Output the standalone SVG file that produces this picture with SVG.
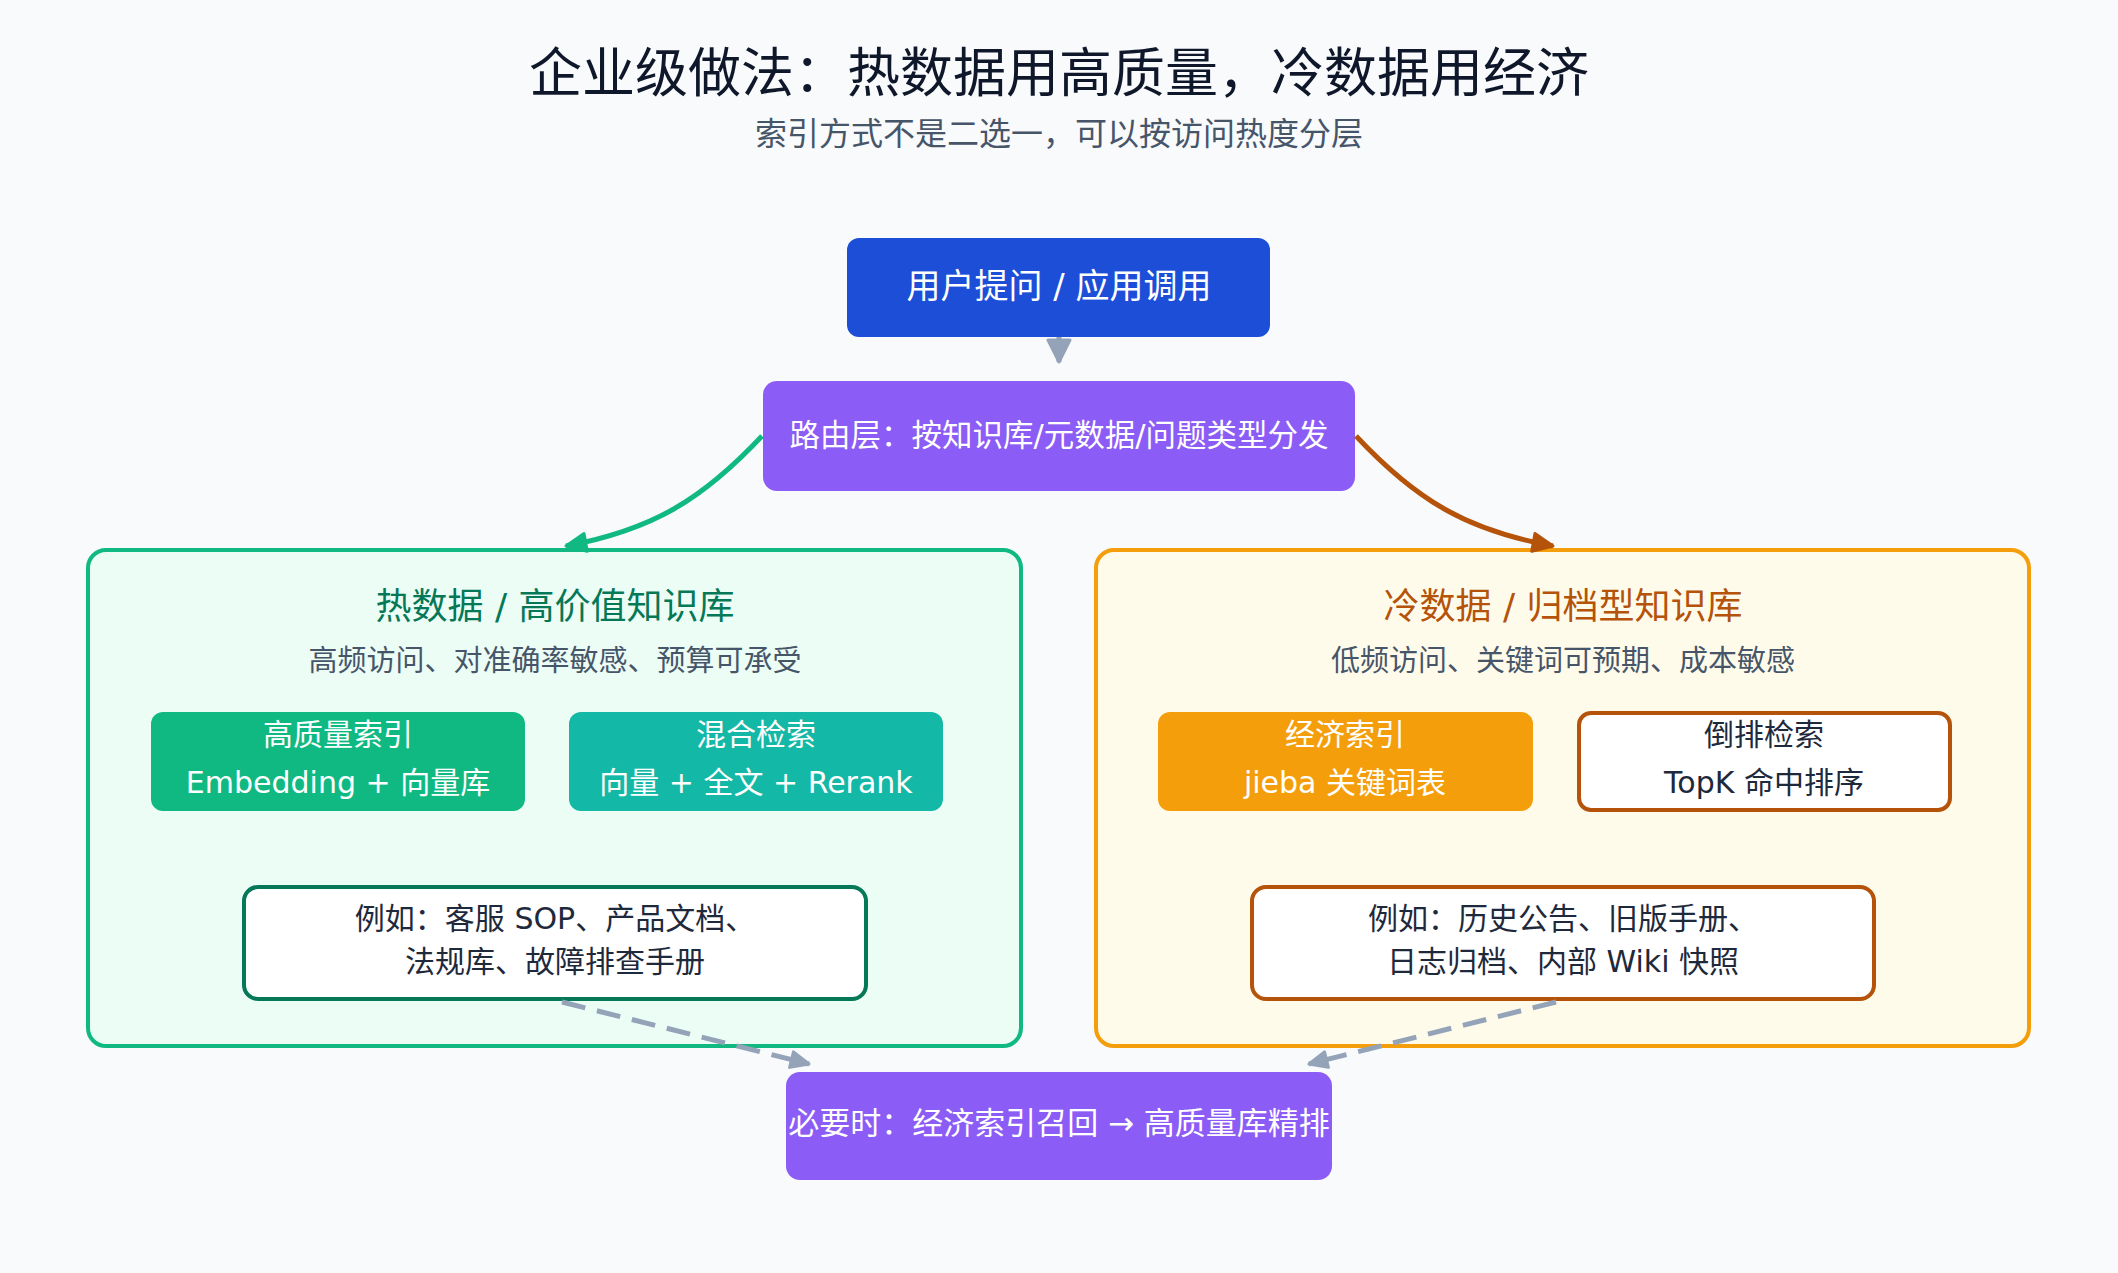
<svg xmlns="http://www.w3.org/2000/svg" width="2118" height="1273" viewBox="0 0 2118 1273">
  <defs>
    <style>
      .t { font-family: "DejaVu Sans", "Noto Sans CJK SC", sans-serif; text-anchor: middle; }
      .title { font-size: 53px; fill: #0f172a; }
      .sub { font-size: 32px; fill: #475569; }
      .w { fill: #ffffff; }
      .dark { fill: #1e293b; }
      .gtitle { font-size: 36px; fill: #047857; }
      .otitle { font-size: 36px; fill: #b45309; }
      .csub { font-size: 29px; fill: #475569; }
      .bx { font-size: 30px; }
      .ex { font-size: 30px; fill: #1e293b; }
      .dash { fill: none; stroke: #94a3b8; stroke-width: 5; stroke-dasharray: 24 12; }
    </style>
    <marker id="mGreen" markerUnits="userSpaceOnUse" viewBox="0 0 24 22" refX="22" refY="11" markerWidth="24" markerHeight="22" orient="auto">
      <path d="M2,2 L22,11 L2,20 Z" fill="#10b981" stroke="#10b981" stroke-width="3" stroke-linejoin="round"/>
    </marker>
    <marker id="mOrange" markerUnits="userSpaceOnUse" viewBox="0 0 24 22" refX="22" refY="11" markerWidth="24" markerHeight="22" orient="auto">
      <path d="M2,2 L22,11 L2,20 Z" fill="#b45309" stroke="#b45309" stroke-width="3" stroke-linejoin="round"/>
    </marker>
    <marker id="mGray" markerUnits="userSpaceOnUse" viewBox="0 0 26 26" refX="24" refY="13" markerWidth="26" markerHeight="26" orient="auto">
      <path d="M2,2 L24,13 L2,24 Z" fill="#94a3b8" stroke="#94a3b8" stroke-width="3" stroke-linejoin="round"/>
    </marker>
    <marker id="mGraySm" markerUnits="userSpaceOnUse" viewBox="0 0 22 20" refX="20" refY="10" markerWidth="22" markerHeight="20" orient="auto">
      <path d="M2,2 L20,10 L2,18 Z" fill="#94a3b8" stroke="#94a3b8" stroke-width="3" stroke-linejoin="round"/>
    </marker>
  </defs>

  <rect x="0" y="0" width="2118" height="1273" fill="#f8fafc"/>

  <g id="title">
    <text class="t title" x="1059" y="92">企业级做法：热数据用高质量，冷数据用经济</text>
    <text class="t sub" x="1059" y="145">索引方式不是二选一，可以按访问热度分层</text>
  </g>

  <g id="hot">
    <rect x="88" y="550" width="933" height="496" rx="18" fill="#ecfdf5" stroke="#10b981" stroke-width="4"/>
    <text class="t gtitle" x="555" y="619">热数据 / 高价值知识库</text>
    <text class="t csub" x="555" y="671">高频访问、对准确率敏感、预算可承受</text>
  </g>
  <g id="hot-hq">
    <rect x="151" y="712" width="374" height="99" rx="12" fill="#10b981"/>
    <text class="t bx w" x="338" y="745">高质量索引</text>
    <text class="t bx w" x="338" y="793">Embedding + 向量库</text>
  </g>
  <g id="hot-hybrid">
    <rect x="569" y="712" width="374" height="99" rx="12" fill="#14b8a6"/>
    <text class="t bx w" x="756" y="745">混合检索</text>
    <text class="t bx w" x="756" y="793">向量 + 全文 + Rerank</text>
  </g>
  <g id="hot-examples">
    <rect x="244" y="887" width="622" height="112" rx="14" fill="#ffffff" stroke="#047857" stroke-width="4"/>
    <text class="t ex" x="555" y="929">例如：客服 SOP、产品文档、</text>
    <text class="t ex" x="555" y="972">法规库、故障排查手册</text>
  </g>

  <g id="cold">
    <rect x="1096" y="550" width="933" height="496" rx="18" fill="#fffbeb" stroke="#f59e0b" stroke-width="4"/>
    <text class="t otitle" x="1563" y="619">冷数据 / 归档型知识库</text>
    <text class="t csub" x="1563" y="671">低频访问、关键词可预期、成本敏感</text>
  </g>
  <g id="cold-econ">
    <rect x="1158" y="712" width="375" height="99" rx="12" fill="#f59e0b"/>
    <text class="t bx w" x="1345" y="745">经济索引</text>
    <text class="t bx w" x="1345" y="793">jieba 关键词表</text>
  </g>
  <g id="cold-inverted">
    <rect x="1579" y="713" width="371" height="97" rx="12" fill="#ffffff" stroke="#b45309" stroke-width="4"/>
    <text class="t bx dark" x="1764" y="745">倒排检索</text>
    <text class="t bx dark" x="1764" y="793">TopK 命中排序</text>
  </g>
  <g id="cold-examples">
    <rect x="1252" y="887" width="622" height="112" rx="14" fill="#ffffff" stroke="#b45309" stroke-width="4"/>
    <text class="t ex" x="1563" y="929">例如：历史公告、旧版手册、</text>
    <text class="t ex" x="1563" y="972">日志归档、内部 Wiki 快照</text>
  </g>

  <g id="user">
    <rect x="847" y="238" width="423" height="99" rx="12" fill="#1d4ed8"/>
    <text class="t w" font-size="34" x="1059" y="298">用户提问 / 应用调用</text>
  </g>
  <g id="router">
    <rect x="763" y="381" width="592" height="110" rx="14" fill="#8b5cf6"/>
    <text class="t w" font-size="30.5" x="1059" y="446">路由层：按知识库/元数据/问题类型分发</text>
  </g>
  <g id="fallback">
    <rect x="786" y="1072" width="546" height="108" rx="14" fill="#8b5cf6"/>
    <text class="t w" font-size="31" x="1059" y="1134">必要时：经济索引召回 → 高质量库精排</text>
  </g>

  <g id="connectors">
    <path d="M1059,337 L1059,362" fill="none" stroke="#94a3b8" stroke-width="5" marker-end="url(#mGray)"/>
    <path d="M762,436 C702,500 652,530 566,546" fill="none" stroke="#10b981" stroke-width="5" marker-end="url(#mGreen)"/>
    <path d="M1356,436 C1416,500 1466,530 1553,546" fill="none" stroke="#b45309" stroke-width="5" marker-end="url(#mOrange)"/>
    <path class="dash" d="M562,1002 L809,1064" marker-end="url(#mGraySm)"/>
    <path class="dash" d="M1556,1002 L1309,1064" marker-end="url(#mGraySm)"/>
  </g>
</svg>
